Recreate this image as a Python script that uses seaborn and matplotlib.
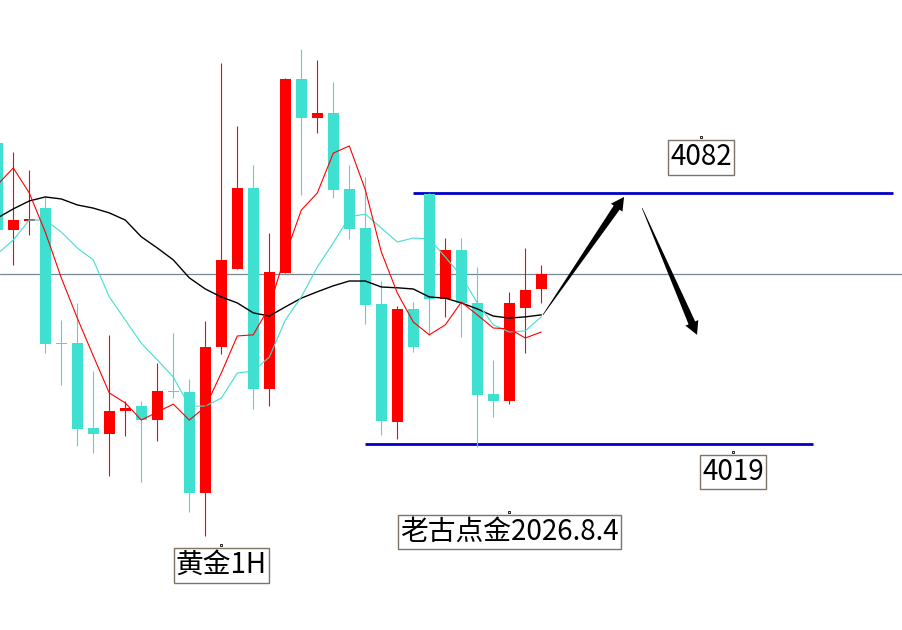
import numpy as np
import matplotlib
matplotlib.use("Agg")
import matplotlib.pyplot as plt
from matplotlib.patches import Polygon
from matplotlib.transforms import IdentityTransform
import seaborn as sns

# gold 1H candles, prices
opens = [4094.5, 4072.7, 4075.0, 4078.2, 4044.3, 4044.3, 4023.0, 4021.5, 4027.3, 4028.5,
         4025.0, 4032.3, 4032.0, 4006.7, 4043.3, 4062.9, 4083.3, 4032.8, 4061.9, 4110.6,
         4100.8, 4102.1, 4083.0, 4073.2, 4054.1, 4024.5, 4052.9, 4081.8, 4055.4, 4067.7,
         4054.4, 4031.5, 4029.8, 4053.1, 4057.9]
closes = [4072.7, 4075.2, 4075.5, 4044.1, 4044.1, 4022.8, 4021.5, 4027.3, 4028.0, 4025.0,
          4032.3, 4032.0, 4006.7, 4043.3, 4065.2, 4083.3, 4032.8, 4062.2, 4110.6, 4100.8,
          4102.1, 4082.8, 4073.0, 4053.9, 4024.8, 4052.9, 4043.3, 4055.4, 4067.7, 4054.4,
          4031.3, 4029.8, 4054.4, 4057.7, 4061.7]
highs = [4095.3, 4092.3, 4087.8, 4081.0, 4050.1, 4054.4, 4037.3, 4046.4, 4029.8, 4029.8,
         4039.3, 4046.9, 4035.3, 4049.9, 4114.6, 4098.8, 4089.0, 4072.0, 4110.9, 4118.1,
         4115.4, 4109.9, 4089.0, 4086.0, 4059.9, 4053.6, 4054.6, 4082.0, 4070.7, 4070.7,
         4063.4, 4040.1, 4057.2, 4068.2, 4063.9]
lows = [4072.2, 4063.9, 4071.5, 4041.8, 4033.8, 4018.5, 4016.7, 4011.0, 4021.0, 4009.5,
        4019.8, 4030.5, 4001.9, 3995.9, 4041.6, 4062.9, 4027.8, 4028.5, 4061.9, 4081.5,
        4097.1, 4080.7, 4070.5, 4049.1, 4021.3, 4020.3, 4042.1, 4046.4, 4050.9, 4045.9,
        4018.2, 4025.8, 4029.0, 4041.8, 4054.4]

ma_fast = [4084.0, 4088.3, 4082.0, 4072.2, 4060.7, 4050.6, 4041.1, 4031.8, 4029.3, 4025.0,
           4027.0, 4029.0, 4025.0, 4028.3, 4036.8, 4046.1, 4046.4, 4053.4, 4066.4, 4077.7,
           4082.0, 4092.0, 4093.8, 4082.8, 4067.2, 4056.9, 4049.6, 4046.4, 4048.9, 4054.6,
           4051.4, 4048.1, 4047.9, 4045.6, 4047.1]
ma_mid = [4066.7, 4070.2, 4075.2, 4075.2, 4072.2, 4068.2, 4065.2, 4055.9, 4050.1, 4044.3,
          4040.1, 4035.8, 4028.5, 4028.5, 4030.5, 4036.8, 4037.3, 4040.8, 4050.1, 4055.9,
          4063.4, 4069.5, 4076.0, 4076.7, 4073.2, 4069.7, 4070.7, 4070.5, 4065.9, 4061.2,
          4054.4, 4048.9, 4047.1, 4047.4, 4050.9]
ma_slow = [4075.7, 4078.0, 4080.0, 4081.0, 4080.5, 4079.0, 4078.2, 4077.0, 4075.2, 4071.0,
           4068.2, 4065.2, 4060.7, 4057.9, 4055.9, 4054.4, 4051.9, 4051.1, 4053.4, 4055.6,
           4057.2, 4058.7, 4059.9, 4059.9, 4058.4, 4058.2, 4057.9, 4055.9, 4055.6, 4054.4,
           4052.9, 4051.1, 4050.6, 4050.9, 4051.4]

current_price = 4061.7
resistance = 4082.0
resistance_span = (26, 56)
support = 4019.0
support_span = (23, 51)

# arrows: (start bar, start price) -> (end bar, end price)
arrow_up = [(34.1, 4051.4), (39.17, 4081.0)]
arrow_down = [(40.3, 4078.2), (43.73, 4046.4)]

# labels: text, anchor bar, anchor price
label_texts = ["4082", "4019", "老古点金2026.8.4", "黄金1H"]
label_bars = [44, 46, 32, 14]
label_prices = [4096.0, 4017.0, 4001.9, 3993.6]

UP = "#FF0000"
DOWN = "#40E0D0"

sns.set_style("white")
plt.rcParams["font.family"] = ["Noto Sans CJK SC", "DejaVu Sans"]

fig = plt.figure(figsize=(9.02, 6.30), dpi=100)
ax = fig.add_axes([0, 0, 1, 1])
ax.set_axis_off()
ax.set_xlim(0.17, 56.54)
ax.set_ylim(3972.3, 4130.44)

o = np.array(opens)
c = np.array(closes)
idx = np.arange(len(o))
cols = [UP if cc >= oo else DOWN for oo, cc in zip(o, c)]

ax.axhline(current_price, color="#778899", lw=0.9, zorder=1)
ax.hlines(resistance, *resistance_span, color="#0000C8", lw=2.0, zorder=1.5)
ax.hlines(support, *support_span, color="#0000C8", lw=2.0, zorder=1.5)

ax.vlines(idx, lows, highs, colors=cols, lw=0.8, zorder=2)
ax.bar(idx, np.maximum(np.abs(c - o), 0.35), bottom=np.minimum(o, c),
       width=0.69, color=cols, linewidth=0, zorder=3)

sns.lineplot(x=idx, y=ma_slow, color="black", lw=1.0, ax=ax, zorder=4)
sns.lineplot(x=idx, y=ma_mid, color=DOWN, lw=0.8, ax=ax, zorder=4)
sns.lineplot(x=idx, y=ma_fast, color=UP, lw=0.8, ax=ax, zorder=4)


def draw_arrow(start, end):
    # tapered arrow built in pixel space
    p0 = ax.transData.transform(start)
    p1 = ax.transData.transform(end)
    d = p1 - p0
    u = d / np.hypot(*d)
    n = np.array([-u[1], u[0]])
    hb = p1 - u * 13
    pts = [p0 + n * 0.3, hb + n * 3.6, hb + n * 7.0, p1,
           hb - n * 7.0, hb - n * 3.6, p0 - n * 0.3]
    ax.add_patch(Polygon(pts, closed=True, facecolor="black", edgecolor="none",
                         transform=IdentityTransform(), zorder=5))


draw_arrow(*arrow_up)
draw_arrow(*arrow_down)

for txt, bx, pr in zip(label_texts, label_bars, label_prices):
    ax.plot(bx, pr, marker="s", ms=1.6, mfc="white", mec="black", mew=0.6, zorder=6)
    ax.annotate(txt, (bx, pr), xytext=(0, -14.5), textcoords="offset points",
                ha="center", va="center", fontsize=20, color="black", zorder=6,
                bbox=dict(boxstyle="square,pad=0.08", fc="white", ec="#7F7366", lw=1.0))

fig.savefig("out.png", dpi=100)
